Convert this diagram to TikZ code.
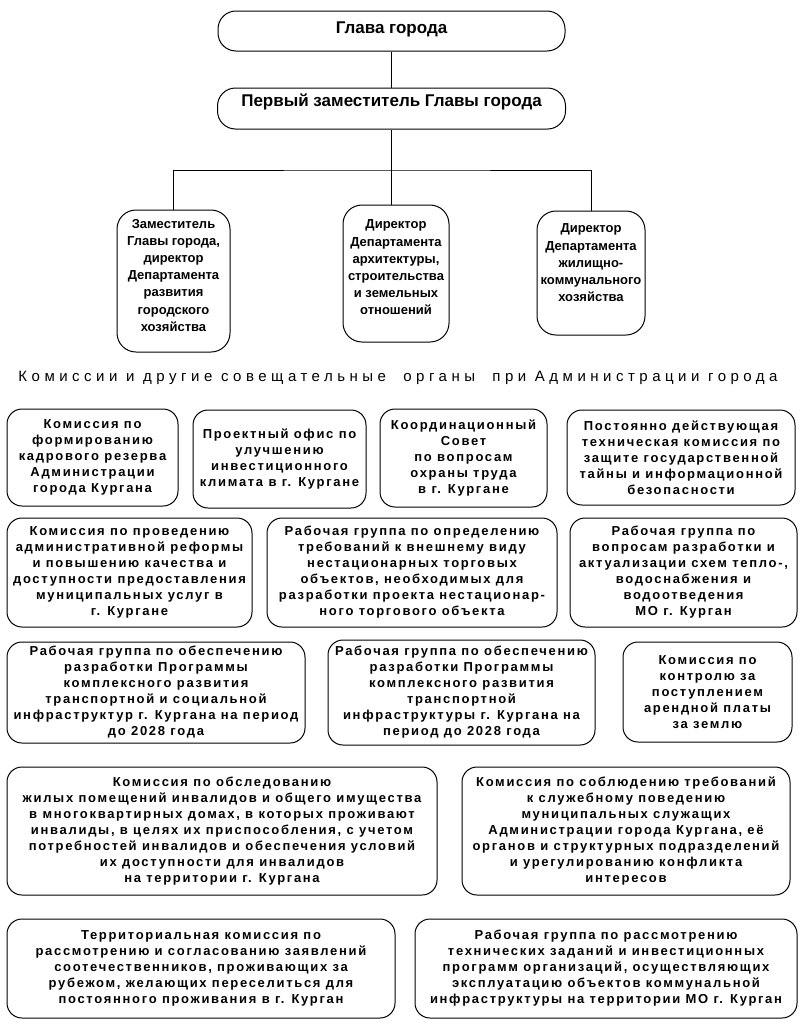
\documentclass[tikz,border=0pt]{standalone}
\usepackage{fontspec}
\setmainfont{Liberation Sans}
\newfontfamily\wsp[LetterSpace=13]{Liberation Sans}
\newfontfamily\hsp[LetterSpace=30]{Liberation Sans}
\newcommand{\topalign}[4]{\parbox[c][#1][t]{#2}{\centering\vspace*{#3}#4}}
\begin{document}
\begin{tikzpicture}[x=1pt,y=-1pt,line width=1pt,
  rbox/.style={draw, rounded corners=15pt, inner sep=0pt, align=center,
    font=\wsp\bfseries\fontsize{13}{16}\selectfont},
  dbox/.style={draw, rounded corners=19pt, inner sep=0pt, align=center,
    font=\bfseries\fontsize{13}{17.2}\selectfont},
  tbox/.style={draw, rounded corners=18pt, inner sep=0pt, align=center,
    font=\bfseries\fontsize{17}{20}\selectfont},
  conn/.style={draw, line width=1pt}]
\useasboundingbox[fill=white] (0,0) rectangle (800,1026);

% top
\node[tbox, minimum width=347, minimum height=40] (glava) at (391.5,31)
  {\topalign{40pt}{340pt}{11pt}{Глава города}};
\node[tbox, minimum width=348, minimum height=41] (perv) at (391.5,108.5)
  {\topalign{41pt}{340pt}{6pt}{Первый заместитель Главы города}};

% departments
\node[dbox, minimum width=113, minimum height=142] (d1) at (173.5,281)
  {\topalign{142pt}{112pt}{9pt}{Заместитель\\Главы города,\\директор\\Департамента\\развития\\городского\\хозяйства}};
\node[dbox, minimum width=106, minimum height=137] (d2) at (396,273.5)
  {\topalign{137pt}{106pt}{15pt}{Директор\\Департамента\\архитектуры,\\строительства\\и земельных\\отношений}};
\node[dbox, minimum width=108, minimum height=124] (d3) at (591,273)
  {\topalign{124pt}{108pt}{13pt}{Директор\\Департамента\\жилищно-\\коммунального\\хозяйства}};

\coordinate (bus) at (391.5,170);
\draw[conn] (glava.south) -- (perv.north);
\draw[conn] (perv.south) -- (bus);
\draw[conn] (d1.north) |- (bus) -| (d3.north);
\draw[conn] (bus) -- (bus |- d2.north);

\node[font=\hsp\fontsize{15}{17}\selectfont] (head) at (398,378)
  {Комиссии и другие совещательные\ \ органы\ \ при Администрации города};

% row 1
\node[rbox, minimum width=171, minimum height=97] (a) at (92.5,457.5)
  {Комиссия по\\формированию\\кадрового резерва\\Администрации\\города Кургана};
\node[rbox, minimum width=173, minimum height=98] (b) at (279.5,459)
  {Проектный офис по\\улучшению\\инвестиционного\\климата в г. Кургане};
\node[rbox, minimum width=167, minimum height=98] (c) at (463.5,458)
  {Координационный\\Совет\\по вопросам\\охраны труда\\в г. Кургане};
\node[rbox, minimum width=228, minimum height=95] (d) at (681,457.5)
  {Постоянно действующая\\техническая комиссия по\\защите государственной\\тайны и информационной\\безопасности};

% row 2
\node[rbox, minimum width=245, minimum height=109] (e) at (129.5,572.5)
  {Комиссия по проведению\\административной реформы\\и повышению качества и\\доступности предоставления\\муниципальных услуг в\\г. Кургане};
\node[rbox, minimum width=290, minimum height=109] (f) at (412,572.5)
  {Рабочая группа по определению\\требований к внешнему виду\\нестационарных торговых\\объектов, необходимых для\\разработки проекта нестационар-\\ного торгового объекта};
\node[rbox, minimum width=227, minimum height=109] (g) at (683.5,572.5)
  {Рабочая группа по\\вопросам разработки и\\актуализации схем тепло-,\\водоснабжения и\\водоотведения\\МО г. Курган};

% row 3
\node[rbox, minimum width=298, minimum height=101] (h) at (156,692.5)
  {Рабочая группа по обеспечению\\разработки Программы\\комплексного развития\\транспортной и социальной\\инфраструктур г. Кургана на период\\до 2028 года};
\node[rbox, minimum width=267, minimum height=105] (i) at (461.5,692.5)
  {Рабочая группа по обеспечению\\разработки Программы\\комплексного развития\\транспортной\\инфраструктуры г. Кургана на\\период до 2028 года};
\node[rbox, minimum width=169, minimum height=100] (j) at (707.5,692)
  {Комиссия по\\контролю за\\поступлением\\арендной платы\\за землю};

% row 4
\node[rbox, minimum width=430, minimum height=128] (k) at (222,831)
  {Комиссия по обследованию\\жилых помещений инвалидов и общего имущества\\в многоквартирных домах, в которых проживают\\инвалиды, в целях их приспособления, с учетом\\потребностей инвалидов и обеспечения условий\\их доступности для инвалидов\\на территории г. Кургана};
\node[rbox, minimum width=328, minimum height=128] (l) at (626,831)
  {Комиссия по соблюдению требований\\к служебному поведению\\муниципальных служащих\\Администрации города Кургана, её\\органов и структурных подразделений\\и урегулированию конфликта\\интересов};

% row 5
\node[rbox, minimum width=388, minimum height=99] (m) at (201,968.5)
  {Территориальная комиссия по\\рассмотрению и согласованию заявлений\\соотечественников, проживающих за\\рубежом, желающих переселиться для\\постоянного проживания в г. Курган};
\node[rbox, minimum width=382, minimum height=99] (n) at (606,968.5)
  {Рабочая группа по рассмотрению\\технических заданий и инвестиционных\\программ организаций, осуществляющих\\эксплуатацию объектов коммунальной\\инфраструктуры на территории МО г. Курган};
\end{tikzpicture}
\end{document}
